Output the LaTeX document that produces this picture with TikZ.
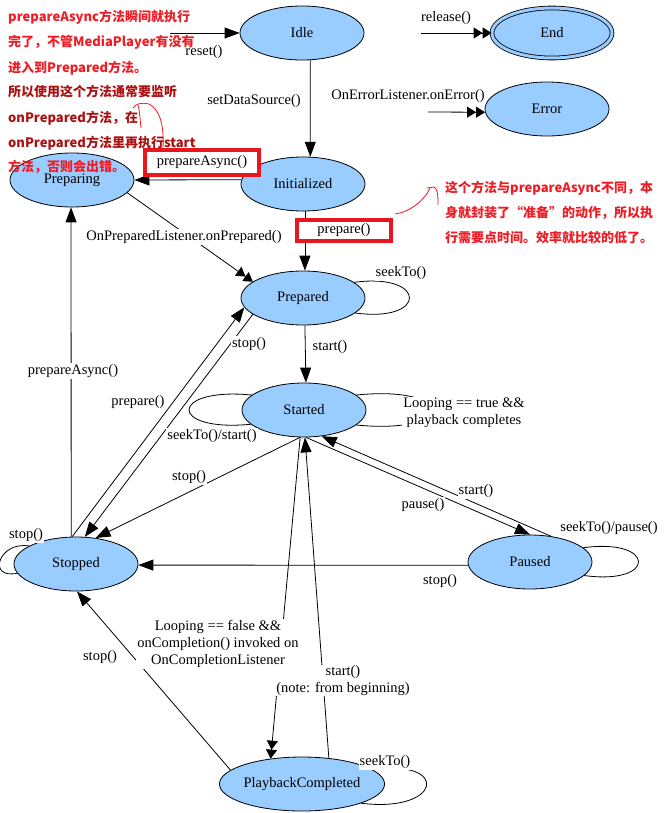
\documentclass[tikz,border=0pt]{standalone}
\usepackage{fontspec}
\setmainfont{Liberation Serif}
\newfontfamily\cjk{Noto Sans CJK SC}
\usetikzlibrary{arrows.meta,shapes.geometric}
\definecolor{stfill}{RGB}{153,204,255}
\definecolor{nred}{RGB}{238,28,36}
\definecolor{ndred}{RGB}{170,18,18}
\definecolor{boxred}{RGB}{232,22,30}
\begin{document}
\begin{tikzpicture}[x=1pt,y=-1pt,
  state/.style={ellipse, draw=black, line width=0.8pt, fill=stfill, minimum width=124pt, minimum height=54pt, inner sep=0pt, font=\fontsize{14.5}{17}\selectfont},
  lbl/.style={font=\fontsize{14.5}{17}\selectfont, inner sep=1pt, fill=white, align=center},
  edge/.style={line width=0.8pt, -{Triangle[length=15pt,width=11pt]}},
  dedge/.style={line width=0.8pt, -{Triangle[length=9pt,width=11pt]Triangle[length=9pt,width=11pt]}},
  selfloop/.style={line width=0.8pt},
  note/.style={font=\cjk\bfseries\fontsize{13}{15}\selectfont, anchor=west, inner sep=0pt},
  redbox/.style={draw=boxred, line width=4pt, fill=white, inner sep=0pt, font=\fontsize{14.5}{17}\selectfont},
  redline/.style={draw=nred, line width=0.8pt}
]
\useasboundingbox[fill=white] (0,0) rectangle (665,813);

% states
\node[state] (Idle) at (302,33) {Idle};
\node[state, double=stfill, double distance=3pt, minimum width=120pt, minimum height=50pt] (End) at (552,33) {End};
\node[state] (Error) at (547,109) {Error};
\node[state] (Initialized) at (303,184) {Initialized};
\node[state] (Preparing) at (72,180) {Preparing};
\node[state] (Prepared) at (303,298) {Prepared};
\node[state] (Started) at (304,410) {Started};
\node[state] (Stopped) at (76,564) {Stopped};
\node[state] (Paused) at (530,562) {Paused};
\node[state] (PlaybackCompleted) at (302,784) {PlaybackCompleted};

% free ends
\coordinate (r0) at (170,33);
\coordinate (rel0) at (421,33);
\coordinate (err0) at (428,112);

% edges
\draw[edge] (r0) -- (Idle.west);
\draw[dedge] (rel0) -- (End.west);
\draw[dedge] (err0) -- (Error.183);
\draw[edge] (Idle.-73) -- (Initialized.75);
\draw[edge] (Initialized.176) -- (Preparing.0);
\draw[edge] (Initialized.-86) -- (Prepared.86);
\draw[dedge] (Preparing.-13) -- (Prepared.162);
\draw[edge] (Prepared.-86) -- (Started.86);
\draw[edge] (Started.262) -- (Stopped.53);
\draw[edge] (Prepared.198) -- (Stopped.72);
\draw[edge] (Stopped.98) -- (Prepared.189);
\draw[edge] (Stopped.100) -- (Preparing.268);
\draw[edge] (Paused.51) -- (Started.-56);
\draw[edge] (Started.-86) -- (Paused.90);
\draw[edge] (Paused.183) -- (Stopped.-1);
\draw[dedge] (Started.-98) -- (PlaybackCompleted.141);
\draw[edge] (PlaybackCompleted.44) -- (Started.-88);
\draw[edge] (PlaybackCompleted.169) -- (Stopped.-88);

% self loops
\draw[selfloop] (Prepared.17) .. controls +(73,-10) and +(73,10) .. (Prepared.-16);
\draw[selfloop] (Started.16) .. controls +(100,-10) and +(100,10) .. (Started.-16);
\draw[selfloop] (Started.164) .. controls +(-83,-8) and +(-83,8) .. (Started.195);
\draw[selfloop] (Stopped.159) .. controls +(-30,-5) and +(-31,6) .. (Stopped.189);
\draw[selfloop] (Paused.15) .. controls +(73,-10) and +(73,10) .. (Paused.-14);
\draw[selfloop] (PlaybackCompleted.12) .. controls +(80,-10) and +(80,10) .. (PlaybackCompleted.-18);

% labels
\node[lbl] (lreset) at (204,52) {reset()};
\node[lbl] (lrelease) at (446,18) {release()};
\node[lbl] (lerror) at (408,96) {OnErrorListener.onError()};
\node[lbl] (lsds) at (254,101) {setDataSource()};
\node[lbl] (lonprep) at (184,237) {OnPreparedListener.onPrepared()};
\node[lbl] (lseek1) at (401,273) {seekTo()};
\node[lbl] (lstart1) at (330,347) {start()};
\node[lbl] (lstop1) at (249,344) {stop()};
\node[lbl] (lprep2) at (138,402) {prepare()};
\node[lbl] (lpasync2) at (73,371) {prepareAsync()};
\node[lbl] (lseekstart) at (212,436) {seekTo()/start()};
\node[lbl] (lloopt) at (464,412.5) {Looping == true \&\&\\playback completes};
\node[lbl] (lstop2) at (189,477) {stop()};
\node[lbl] (lstart2) at (476,491) {start()};
\node[lbl] (lpause) at (423,505) {pause()};
\node[lbl] (lseekpause) at (609,528) {seekTo()/pause()};
\node[lbl] (lstop3) at (26,535) {stop()};
\node[lbl] (lstop4) at (440,581) {stop()};
\node[lbl] (lloopf) at (218,644) {Looping == false \&\&\\onCompletion() invoked on\\OnCompletionListener};
\node[lbl] (lstop5) at (100,657) {stop()};
\node[lbl, inner sep=0pt] (lstart3) at (343,680.5) {start()\\(note: from beginning)};
\node[lbl] (lseek3) at (385,762) {seekTo()};

% red boxed labels
\node[redbox, minimum width=114pt, minimum height=25pt] (pabox) at (202,162.5) {prepareAsync()\hspace{4pt}};
\node[redbox, minimum width=94pt, minimum height=21pt] (pbox) at (344,230.5) {prepare()\hspace{14pt}};

% red annotation strokes
\coordinate (a1) at (163,148);
\coordinate (a2) at (133,108);
\coordinate (a3) at (138,105);
\coordinate (a4) at (141,128);
\draw[redline] (a1) .. controls (164,128) and (161,110) .. (149,104) .. controls (142,102) and (135,104) .. (a2);
\draw[redline] (a3) .. controls (140,112) and (140,120) .. (a4);
\coordinate (b1) at (395,214);
\coordinate (b2) at (430,188);
\coordinate (b3) at (438,205);
\draw[redline] (b1) .. controls (410,212) and (425,200) .. (b2);
\draw[redline] (427,188) -- (434,187) .. controls (437,189) and (438,192) .. (b3);

% notes
\node[note, text=nred] (n1) at (8,17) {prepareAsync方法瞬间就执行};
\node[note, text=nred] (n2) at (8,42) {完了，不管MediaPlayer有没有};
\node[note, text=nred] (n3) at (8,68) {进入到Prepared方法。};
\node[note, text=ndred] (n4) at (8,92) {所以使用这个方法通常要监听};
\node[note, text=ndred] (n5) at (8,118) {onPrepared方法，在};
\node[note, text=ndred] (n6) at (8,143) {onPrepared方法里再执行start};
\node[note, text=nred] (n7) at (8,167) {方法，否则会出错。};
\node[note, text=nred] (m1) at (445,188) {这个方法与prepareAsync不同，本};
\node[note, text=nred] (m2) at (445,213) {身就封装了“准备”的动作，所以执};
\node[note, text=nred] (m3) at (445,238) {行需要点时间。效率就比较的低了。};
\end{tikzpicture}
\end{document}
